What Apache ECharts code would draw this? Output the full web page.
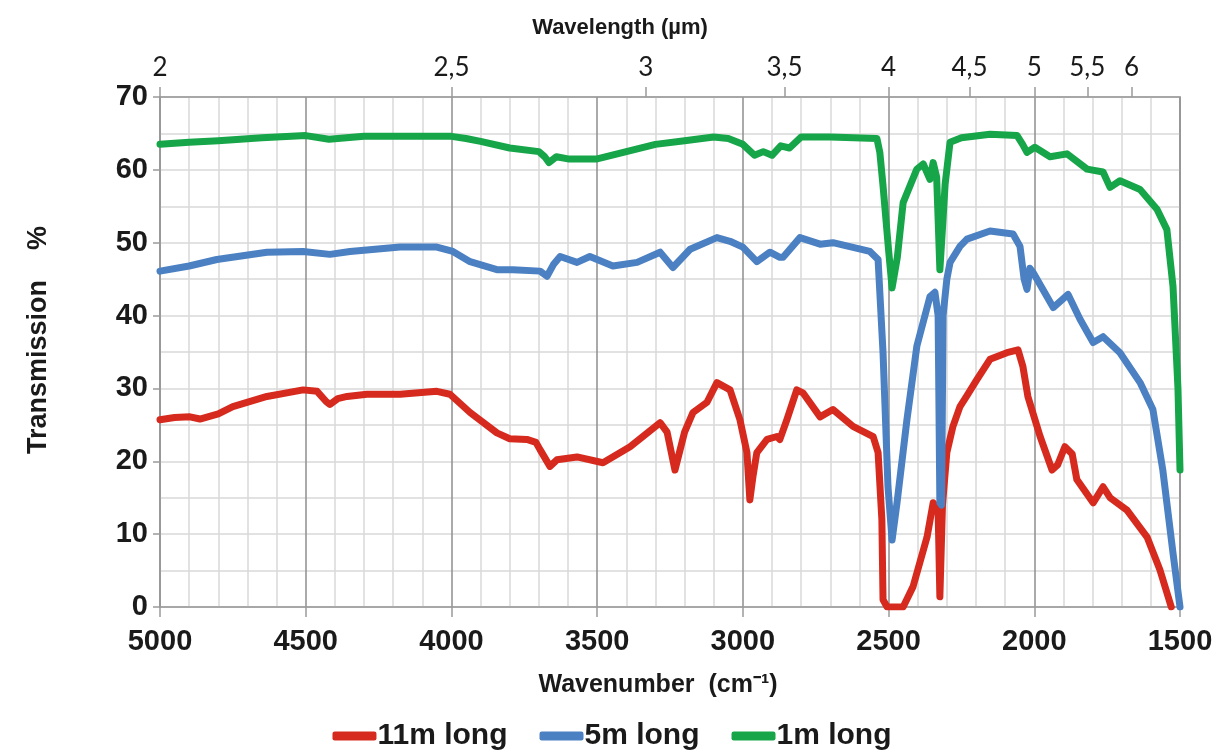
<!DOCTYPE html>
<html>
<head>
<meta charset="utf-8">
<script src="https://cdn.jsdelivr.net/npm/echarts@6/dist/echarts.min.js"></script>
<style>html,body{margin:0;padding:0;background:#fff}#c{width:1224px;height:752px}</style>
</head>
<body>
<div id="c"></div>
<script>
// Wavenumber (cm-1) and transmission (%) for each fibre length
const wn11 = [5000,4950,4897,4863,4800,4750,4633,4509,4461,4430,4417,4390,4358,4290,4176,4050,4005,3936,3844,3800,3741,3710,3696,3662,3638,3569,3480,3387,3284,3260,3233,3200,3171,3123,3089,3044,3010,2986,2976,2965,2952,2917,2883,2873,2849,2815,2794,2735,2691,2622,2553,2536,2523,2519,2505,2450,2416,2368,2347,2330,2324,2315,2300,2279,2255,2231,2197,2152,2094,2056,2039,2022,1980,1939,1920,1895,1870,1854,1798,1764,1740,1682,1613,1569,1530];
const t11  = [25.7,26,26.1,25.8,26.5,27.5,28.9,29.8,29.6,28.2,27.8,28.6,28.9,29.2,29.2,29.6,29.2,26.7,23.9,23.1,23,22.6,21.6,19.3,20.2,20.6,19.8,22,25.3,24,18.8,24,26.7,28.1,30.8,29.8,25.7,21.2,14.7,18,21.2,23,23.4,23,25.7,29.8,29.4,26.1,27.1,24.8,23.4,21.2,12,1,0,0,2.8,9.6,14.3,13.3,1.4,14,21.2,24.8,27.5,29,31.2,34,34.9,35.3,33,28.9,23.4,18.8,19.5,22,21,17.5,14.3,16.5,15,13.3,9.6,5.1,0];

const wn5 = [5000,4900,4805,4633,4509,4417,4348,4176,4050,3995,3936,3844,3789,3696,3672,3650,3627,3569,3525,3446,3363,3284,3240,3181,3089,3044,3000,2952,2907,2873,2862,2804,2735,2691,2564,2536,2519,2502,2488,2471,2437,2403,2358,2341,2330,2324,2318,2313,2300,2289,2255,2231,2152,2073,2049,2035,2025,2015,2004,1935,1884,1843,1798,1764,1706,1637,1593,1559,1524,1500];
const t5  = [46.1,46.8,47.7,48.7,48.8,48.4,48.8,49.4,49.4,48.8,47.4,46.3,46.3,46.1,45.4,47,48.1,47.3,48.1,46.8,47.3,48.7,46.6,49.1,50.7,50.2,49.4,47.4,48.7,48,48,50.7,49.8,50,48.8,47.7,34.9,16.5,9.2,14.3,25.7,35.8,42.6,43.2,40,14.3,14,40,45,47.3,49.5,50.5,51.6,51.2,49.5,45,43.6,46.5,45.9,41.1,42.9,39.5,36.3,37.1,34.9,30.8,27.1,18.8,7.4,0];

const wn1 = [5000,4900,4800,4650,4500,4420,4300,4000,3950,3900,3800,3700,3680,3665,3640,3600,3500,3400,3300,3200,3100,3050,3000,2960,2930,2900,2870,2840,2800,2700,2540,2530,2519,2500,2488,2470,2450,2403,2381,2358,2347,2335,2324,2315,2306,2289,2250,2152,2059,2040,2025,1998,1946,1888,1819,1764,1740,1706,1637,1579,1545,1524,1507,1500];
const t1  = [63.5,63.8,64,64.4,64.7,64.2,64.6,64.6,64.3,63.9,63,62.5,61.8,61,61.8,61.5,61.5,62.5,63.5,64,64.5,64.3,63.5,62,62.5,62,63.3,63,64.5,64.5,64.3,62.4,57.8,49,43.8,48,55.5,60.1,60.8,58.7,61,59,46.3,52,58,63.8,64.4,64.9,64.7,63.5,62.4,63.1,61.8,62.2,60.1,59.7,57.6,58.5,57.3,54.6,51.8,44,30,18.8];

// Top axis: wavelength ticks (µm)
const wavelengthTicks = [2, 2.5, 3, 3.5, 4, 4.5, 5, 5.5, 6];
const seriesNames = ['11m long', '5m long', '1m long'];
const seriesColors = ['#d62a1e', '#4b80c2', '#17a549'];

const topPositions = wavelengthTicks.map(l => 10000 / l);
const zip = (a, b) => a.map((x, i) => [x, b[i]]);
const dataSets = [zip(wn11, t11), zip(wn5, t5), zip(wn1, t1)];

const axisGray = '#9a9a9a';
const font = 'Liberation Sans, Arial, sans-serif';

const chart = echarts.init(document.getElementById('c'), null, {renderer: 'canvas'});
chart.setOption({
  animation: false,
  backgroundColor: '#fff',
  grid: {left: 160, right: 44, top: 97, bottom: 145, show: true, borderColor: axisGray, borderWidth: 1.5, backgroundColor: 'transparent'},
  legend: {
    data: seriesNames, top: 716, left: 'center', icon: 'roundRect', itemWidth: 44, itemHeight: 9, itemGap: 32,
    textStyle: {fontFamily: font, fontSize: 30, fontWeight: 'bold', color: '#1a1a1a', padding: [0, 0, 0, -4]}
  },
  xAxis: [{
    type: 'value', position: 'bottom', inverse: true, min: 1500, max: 5000, interval: 500,
    axisLine: {show: true, lineStyle: {color: axisGray, width: 1.5}},
    axisTick: {show: true, length: 10, lineStyle: {color: axisGray, width: 1.5}},
    axisLabel: {fontFamily: font, fontSize: 29, fontWeight: 'bold', color: '#1a1a1a', margin: 20, formatter: v => String(v)},
    splitLine: {show: true, lineStyle: {color: '#8e8e8e', width: 1.5}},
    minorTick: {show: false, splitNumber: 5},
    minorSplitLine: {show: true, lineStyle: {color: '#d9d9d9', width: 1.5}},
    name: 'Wavenumber  (cm⁻¹)', nameLocation: 'middle', nameGap: 66,
    nameTextStyle: {fontFamily: font, fontSize: 25, fontWeight: 'bold', color: '#1a1a1a', padding: [0, 24, 0, 0]}
  }, {
    type: 'value', position: 'top', inverse: true, min: 1500, max: 5000,
    axisLine: {show: true, lineStyle: {color: axisGray, width: 1.5}},
    axisTick: {show: true, length: 10, customValues: topPositions, lineStyle: {color: axisGray, width: 1.5}},
    axisLabel: {customValues: topPositions, fontFamily: 'Lato, Open Sans, sans-serif', fontSize: 26, color: '#1a1a1a', margin: 16,
      formatter: v => String(+(10000 / v).toFixed(1)).replace('.', ',')},
    splitLine: {show: false},
    name: 'Wavelength (µm)', nameLocation: 'middle', nameGap: 58,
    nameTextStyle: {fontFamily: font, fontSize: 22, fontWeight: 'bold', color: '#1a1a1a', padding: [0, 100, 0, 0]}
  }],
  yAxis: {
    type: 'value', min: 0, max: 70, interval: 10,
    axisLine: {show: true, lineStyle: {color: axisGray, width: 1.5}},
    axisTick: {show: true, length: 7, lineStyle: {color: axisGray, width: 1.5}},
    axisLabel: {fontFamily: font, fontSize: 29, fontWeight: 'bold', color: '#1a1a1a', margin: 12},
    splitLine: {show: true, lineStyle: {color: '#d9d9d9', width: 1.5}},
    minorTick: {show: false, splitNumber: 2},
    minorSplitLine: {show: true, lineStyle: {color: '#d9d9d9', width: 1.5}},
    name: 'Transmission    %', nameLocation: 'middle', nameGap: 108, nameRotate: 90,
    nameTextStyle: {fontFamily: font, fontSize: 27, fontWeight: 'bold', color: '#1a1a1a', padding: [0, 0, 0, 24]}
  },
  series: seriesNames.map((n, i) => ({
    name: n, type: 'line', xAxisIndex: 0, data: dataSets[i], showSymbol: false, symbol: 'none',
    color: seriesColors[i],
    lineStyle: {width: 7, color: seriesColors[i], cap: 'round', join: 'round'},
    z: 2 + i
  }))
});
</script>
</body>
</html>
